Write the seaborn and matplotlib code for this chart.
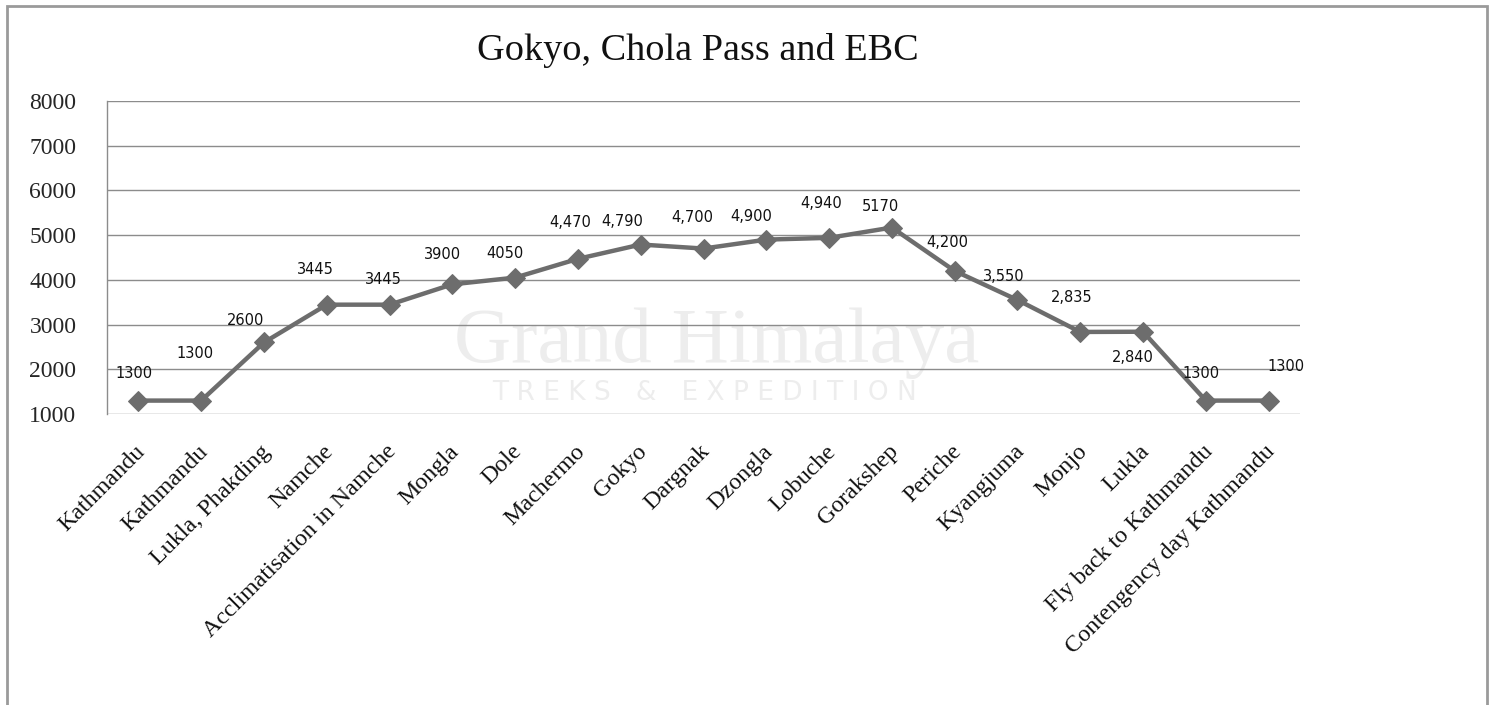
import numpy as np
import pandas as pd
import matplotlib.pyplot as plt
import seaborn as sns
from matplotlib.patches import Rectangle

# trek stops and altitudes (m)
stops = ['Kathmandu', 'Kathmandu', 'Lukla, Phakding', 'Namche', 'Acclimatisation in Namche',
         'Mongla', 'Dole', 'Machermo', 'Gokyo', 'Dargnak', 'Dzongla', 'Lobuche', 'Gorakshep',
         'Periche', 'Kyangjuma', 'Monjo', 'Lukla', 'Fly back to Kathmandu', 'Contengency day Kathmandu']
altitude = [1300, 1300, 2600, 3445, 3445, 3900, 4050, 4470, 4790, 4700, 4900, 4940, 5170,
            4200, 3550, 2835, 2840, 1300, 1300]
point_labels = ['1300', '1300', '2600', '3445', '3445', '3900', '4050', '4,470', '4,790', '4,700',
                '4,900', '4,940', '5170', '4,200', '3,550', '2,835', '2,840', '1300', '1300']
yticks = [1000, 2000, 3000, 4000, 5000, 6000, 7000, 8000]

# label offsets in pixels (dx, dy), as placed in the original chart
label_off = [(-4, 27), (-6, 47), (-18, 22), (-11, 35), (-6, 25), (-10, 30), (-10, 24), (-8, 36),
             (-18, 23), (-11, 31), (-15, 23), (-8, 34), (-11, 21), (-7, 28), (-14, 23), (-9, 34),
             (-10, -26), (-5, 27), (17, 34)]

df = pd.DataFrame({'pos': np.arange(len(stops)), 'alt': altitude})

sns.set_style('white')
serif = ['Liberation Serif', 'DejaVu Serif']
line_col = '#6d6d6d'
wm_col = '#ededed'

fig = plt.figure(figsize=(14.96, 7.05), dpi=100)
ax = fig.add_axes([107 / 1496, 1 - 414 / 705, (1300 - 107) / 1496, (414 - 101) / 705])
ax.patch.set_alpha(0)

# outer frame
fig.add_artist(Rectangle((7 / 1496, -0.02), 1480 / 1496, 1.02 - 6 / 705, transform=fig.transFigure,
                         fill=False, edgecolor='#9a9a9a', linewidth=2))

# faint watermark, kept behind the axes
fig.text(717 / 1496, 1 - 343 / 705, 'Grand Himalaya', fontsize=57, family=serif, color=wm_col,
         ha='center', va='center', zorder=-1)
fig.text(705 / 1496, 1 - 393 / 705, 'T R E K S   &   E X P E D I T I O N', fontsize=19, color=wm_col,
         ha='center', va='center', zorder=-1)

sns.lineplot(data=df, x='pos', y='alt', ax=ax, color=line_col, linewidth=3.2, marker='D',
             markersize=10, markeredgecolor=line_col, zorder=3)

for i, (v, lab) in enumerate(zip(altitude, point_labels)):
    dx, dy = label_off[i]
    ax.annotate(lab, (i, v), xytext=(dx, dy), textcoords='offset pixels', ha='center', va='center',
                fontsize=10.5, color='#111111', zorder=4)

# slanted category labels under each point
for i, name in enumerate(stops):
    ax.annotate(name, (i, 1000), xytext=(-4, -27), textcoords='offset pixels',
                rotation=45, rotation_mode='anchor', ha='right', va='top',
                family=serif, fontsize=17.3, color='#111111', annotation_clip=False)

ax.set_xlim(-0.5, len(stops) - 0.5)
ax.set_ylim(1000, 8000)
ax.set_yticks(yticks)
ax.set_yticklabels([str(t) for t in yticks], family=serif, fontsize=17)
ax.set_xticks(df['pos'])
ax.set_xticklabels([])
ax.tick_params(axis='y', length=0, pad=22)
ax.tick_params(axis='x', length=0)
ax.set_xlabel('')
ax.set_ylabel('')
ax.yaxis.grid(True, color='#8c8c8c', linewidth=1)
for s in ['top', 'right', 'bottom']:
    ax.spines[s].set_visible(False)
ax.spines['left'].set_color('#8c8c8c')
ax.spines['left'].set_linewidth(1)

fig.text(698 / 1496, 1 - 50 / 705, 'Gokyo, Chola Pass and EBC', family=serif, fontsize=27.5,
         ha='center', va='center', color='#111111')

fig.savefig('out.png', dpi=100, facecolor='white')
